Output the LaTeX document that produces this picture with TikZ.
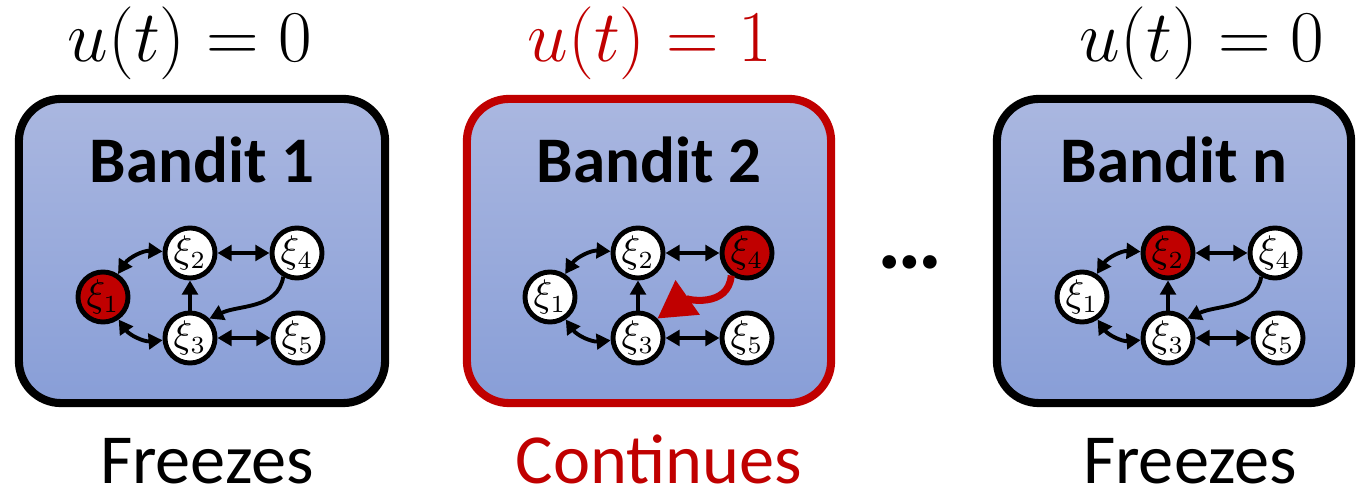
\documentclass[tikz,border=0pt]{standalone}
\usepackage{fontspec}
\setmainfont{Carlito}
\usetikzlibrary{arrows.meta}
\definecolor{pptred}{RGB}{192,0,0}
\definecolor{boxtop}{RGB}{170,183,224}
\definecolor{boxbot}{RGB}{136,158,215}

\begin{document}
\begin{tikzpicture}[x=0.01cm,y=-0.01cm,
  panel/.style={draw=black, line width=2.3pt, rounded corners=12pt,
    top color=boxtop, bottom color=boxbot, minimum height=3.04cm, inner sep=0pt},
  vtx/.style={circle, draw=black, line width=1.4pt, fill=white, minimum size=0.5cm,
    inner sep=0pt, font=\fontsize{10.5}{12}\selectfont},
  hot/.style={vtx, fill=pptred},
  link/.style={line width=1.1pt, -{Triangle[length=4pt,width=4.4pt]}},
  dlink/.style={line width=1.1pt, {Triangle[length=4pt,width=4.4pt]}-{Triangle[length=4pt,width=4.4pt]}},
  title/.style={anchor=base, inner sep=0pt, font=\fontsize{21}{25}\selectfont},
  head/.style={anchor=base, inner sep=0pt, font=\fontsize{18.5}{22}\selectfont\bfseries},
  verdict/.style={anchor=base, inner sep=0pt, font=\fontsize{20}{24}\selectfont}
]
\useasboundingbox (0,0) rectangle (1358,495);

% three bandit panels
\node[panel, minimum width=3.66cm] (p1) at (202,251) {};
\node[panel, draw=pptred, minimum width=3.64cm] (p2) at (649,251) {};
\node[panel, minimum width=3.54cm] (p3) at (1174,251) {};

% control values above the panels
\node[title] (u1) at (190,62) {$u(t) = 0$};
\node[title, text=pptred] (u2) at (650,62) {$u(t) = 1$};
\node[title] (u3) at (1202,62) {$u(t) = 0$};

% panel headings
\node[head] (h1) at (202,183) {Bandit 1};
\node[head] (h2) at (649,183) {Bandit 2};
\node[head] (h3) at (1174,183) {Bandit n};

% outcomes below
\node[verdict] (v1) at (207,484) {Freezes};
\node[verdict, text=pptred] (v2) at (659,484) {Continues};
\node[verdict] (v3) at (1190,484) {Freezes};

% ellipsis between panels
\node[font=\fontsize{26}{28}\selectfont\bfseries] (dots) at (910,262) {…};

% Markov chain of bandit 1 (state 1 active)
\node[hot] (a1) at (103,297) {$\xi_1$};
\node[vtx] (a2) at (190,253) {$\xi_2$};
\node[vtx] (a4) at (297,253) {$\xi_4$};
\node[vtx] (a3) at (190,338) {$\xi_3$};
\node[vtx] (a5) at (298,338) {$\xi_5$};
\draw[dlink] (a1) to[bend left=30] (a2);
\draw[dlink] (a1) to[bend right=30] (a3);
\draw[dlink] (a2) -- (a4);
\draw[dlink] (a3) -- (a5);
\draw[link] (a3) -- (a2);
\draw[link] (a4.240) to[out=-100, in=25] (a3.45);

% Markov chain of bandit 2 (state 4 active, transition taken)
\node[vtx] (b1) at (550,297) {$\xi_1$};
\node[vtx] (b2) at (638,253) {$\xi_2$};
\node[hot] (b4) at (747,253) {$\xi_4$};
\node[vtx] (b3) at (638,338) {$\xi_3$};
\node[vtx] (b5) at (747,338) {$\xi_5$};
\draw[dlink] (b1) to[bend left=30] (b2);
\draw[dlink] (b1) to[bend right=30] (b3);
\draw[dlink] (b2) -- (b4);
\draw[dlink] (b3) -- (b5);
\draw[link] (b3) -- (b2);
\draw[line width=2pt, pptred, -{Triangle[length=10.5pt,width=11.5pt]}]
  (b4.235) to[out=-95, in=35] (b3.45);

% Markov chain of bandit n (state 2 active)
\node[vtx] (c1) at (1082,297) {$\xi_1$};
\node[hot] (c2) at (1168,253) {$\xi_2$};
\node[vtx] (c4) at (1275,253) {$\xi_4$};
\node[vtx] (c3) at (1168,338) {$\xi_3$};
\node[vtx] (c5) at (1278,338) {$\xi_5$};
\draw[dlink] (c1) to[bend left=30] (c2);
\draw[dlink] (c1) to[bend right=30] (c3);
\draw[dlink] (c2) -- (c4);
\draw[dlink] (c3) -- (c5);
\draw[link] (c3) -- (c2);
\draw[link] (c4.240) to[out=-100, in=25] (c3.45);
\end{tikzpicture}
\end{document}
